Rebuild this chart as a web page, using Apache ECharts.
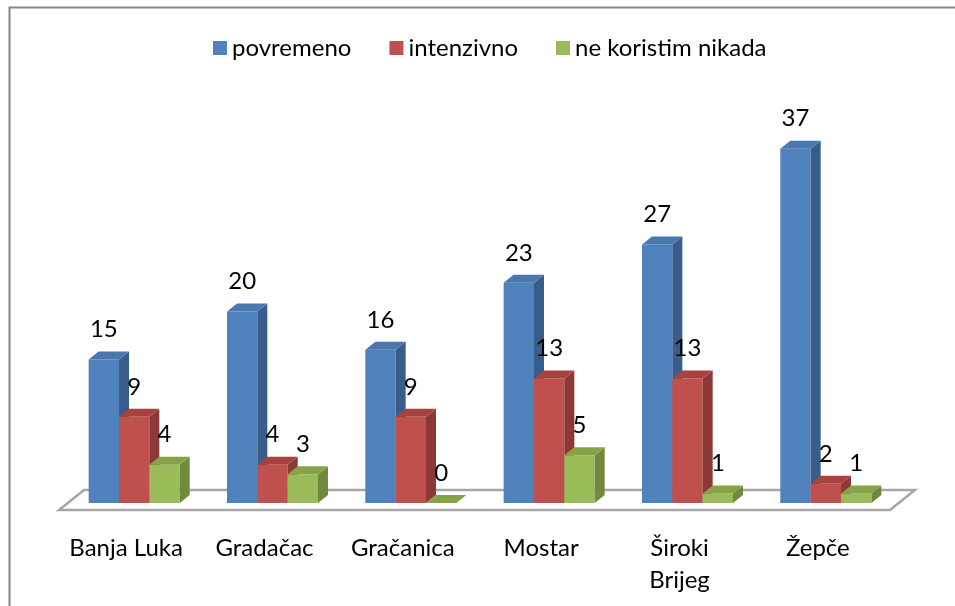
<!DOCTYPE html>
<html>
<head>
<meta charset="utf-8">
<script src="https://cdn.jsdelivr.net/npm/echarts@6/dist/echarts.min.js"></script>
<style>
  html, body { margin: 0; padding: 0; background: #fff; }
  #chart { width: 955px; height: 606px; }
</style>
</head>
<body>
<div id="chart"></div>
<script>
var categories = ['Banja Luka', 'Gradačac', 'Gračanica', 'Mostar', 'Široki Brijeg', 'Žepče']
var povremeno = [15, 20, 16, 23, 27, 37]
var intenzivno = [9, 4, 9, 13, 13, 2]
var neKoristim = [4, 3, 0, 5, 1, 1]
var seriesNames = ['povremeno', 'intenzivno', 'ne koristim nikada']

// front / side / top colours for the fake 3d bars
var palette = [
  { front: '#4f81bd', side: '#385d8a', top: '#4a77ad' },
  { front: '#c0504d', side: '#8c3836', top: '#a8423f' },
  { front: '#9bbb59', side: '#71893f', top: '#86a347' }
]
var FONT = 'Lato'
var FONT_SIZE = 24
var GROUP_RATIO = 0.658
var DX = 10
var DY = 8

function barRenderer(s) {
  return function (params, api) {
    var cat = api.value(0)
    var val = api.value(1)
    var base = api.coord([cat, 0])
    var top = api.coord([cat, val])
    var band = api.size([1, 0])[0]
    var barW = band * GROUP_RATIO / 3
    var x = base[0] - band * GROUP_RATIO / 2 + s * barW
    var c = palette[s]
    var children = []
    if (val > 0) {
      children.push({
        type: 'rect',
        shape: { x: x, y: top[1], width: barW, height: base[1] - top[1] },
        style: { fill: c.front }
      })
      children.push({
        type: 'polygon',
        shape: { points: [[x + barW, top[1]], [x + barW + DX, top[1] - DY], [x + barW + DX, base[1] - DY], [x + barW, base[1]]] },
        style: { fill: c.side }
      })
    }
    children.push({
      type: 'polygon',
      shape: { points: [[x, top[1]], [x + DX, top[1] - DY], [x + barW + DX, top[1] - DY], [x + barW, top[1]]] },
      style: { fill: c.top }
    })
    children.push({
      type: 'text',
      style: {
        x: x + barW / 2,
        y: top[1] - 18,
        text: String(val),
        fill: '#000',
        font: FONT_SIZE + 'px ' + FONT,
        align: 'center',
        verticalAlign: 'bottom'
      }
    })
    return { type: 'group', children: children }
  }
}

function floorRenderer(params, api) {
  var cs = params.coordSys
  var yb = cs.y + cs.height
  var x0 = cs.x - 6
  var x1 = cs.x + cs.width - 5
  return {
    type: 'polygon',
    shape: { points: [[x0, yb + 7], [x0 + 25, yb - 13], [x1 + 25, yb - 13], [x1, yb + 7]] },
    style: { fill: '#fff', stroke: '#a6a6a6', lineWidth: 2.5 }
  }
}

function toPairs(arr) {
  return arr.map(function (v, i) { return [i, v] })
}

var chart = echarts.init(document.getElementById('chart'))
var barData = [povremeno, intenzivno, neKoristim]
var series = [{
  type: 'custom',
  name: 'floor',
  renderItem: floorRenderer,
  data: [[0, 0]],
  silent: true
}]
barData.forEach(function (arr, s) {
  series.push({
    type: 'custom',
    name: seriesNames[s],
    renderItem: barRenderer(s),
    itemStyle: { color: palette[s].front },
    encode: { x: 0, y: 1 },
    data: toPairs(arr)
  })
})

chart.setOption({
  animation: false,
  textStyle: { fontFamily: FONT },
  graphic: [{
    type: 'rect',
    left: 7,
    top: 5,
    shape: { width: 1000, height: 700 },
    style: { fill: 'none', stroke: '#868686', lineWidth: 2 },
    silent: true
  }],
  legend: {
    data: seriesNames,
    left: 208,
    top: 31,
    icon: 'rect',
    itemWidth: 14,
    itemHeight: 14,
    itemGap: 38,
    textStyle: { fontSize: FONT_SIZE, color: '#000', fontFamily: FONT }
  },
  grid: { left: 65, right: 60, top: 120, bottom: 103 },
  xAxis: {
    type: 'category',
    data: categories,
    axisLine: { show: false },
    axisTick: { show: false },
    axisLabel: {
      interval: 0,
      margin: 29,
      fontSize: FONT_SIZE,
      color: '#000',
      lineHeight: 32,
      padding: [0, 16, 0, 0],
      formatter: function (v) { return v.replace(' Brijeg', '\nBrijeg') }
    }
  },
  yAxis: {
    type: 'value',
    min: 0,
    max: 40,
    show: false
  },
  series: series
})
</script>
</body>
</html>
